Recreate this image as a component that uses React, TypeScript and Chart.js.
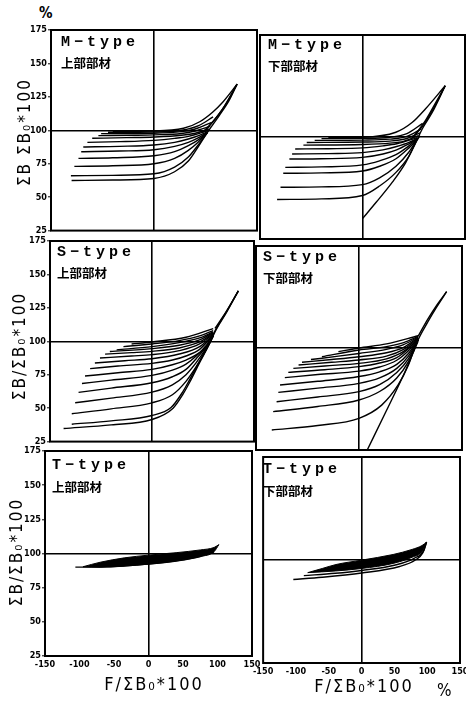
import React, { useEffect, useRef } from 'react';
import { Chart, registerables } from 'chart.js';

Chart.register(...registerables);

type Pt = [number, number];

const xTickValues = [-150, -100, -50, 0, 50, 100, 150];
const yTickValues = [25, 50, 75, 100, 125, 150, 175];

// ---- M-type 上部部材 ----
const mUpperCurves: Pt[][] = [
  [[-120, 62.5], [-60, 62.8], [0, 64], [30, 69], [50, 77], [66, 89], [78.6, 99], [95, 111], [109, 122], [121, 134.5]],
  [[-121, 66], [-60, 66.3], [0, 67.5], [30, 72.5], [50, 80], [65, 89.5], [78, 98.5]],
  [[-116, 73], [-60, 73.5], [0, 75], [30, 79], [50, 85], [65, 91.5], [78, 98.5]],
  [[-110, 79], [-60, 79.5], [0, 81], [30, 84], [50, 88.5], [65, 93], [78, 98.5]],
  [[-106, 84], [-50, 84.5], [0, 85.5], [30, 88], [50, 91], [65, 94.5], [78, 98.5]],
  [[-103, 87.5], [-50, 88], [0, 89], [30, 91], [50, 93.5], [65, 96], [78, 99]],
  [[-97, 91], [-50, 91.5], [0, 92.5], [30, 94], [50, 95.5], [65, 97.5], [80, 100]],
  [[-90, 94], [-40, 94.5], [0, 95], [40, 96.3], [60, 97.8], [80, 101]],
  [[-81, 96], [-30, 96.3], [0, 96.6], [40, 97.6], [60, 99.5], [82, 103]],
  [[-77, 97.5], [0, 97.8], [40, 99], [60, 101], [84, 106]],
  [[-67, 98.5], [0, 98.7], [40, 100], [65, 103.5], [86, 110]],
  [[-60, 99.3], [0, 99.5], [43, 101.5], [66.6, 106.4], [85.7, 113.7], [100, 121], [121, 134.5]],
];
const mUpperEnvelope: Pt[][] = [
  [[70, 98], [85, 106], [100, 116], [121, 134.5]],
  [[75, 100], [90, 109], [104, 119], [121, 134.5]],
];

// ---- M-type 下部部材 ----
const mLowerCurves: Pt[][] = [
  [[-125, 54], [-60, 54.5], [0, 57], [25, 64], [49, 74], [68, 86], [78, 96], [87.4, 105.9], [102, 118], [121, 137.7]],
  [[-120, 63], [-60, 63.3], [0, 65], [25, 70], [49, 78.5], [68, 89], [79, 97.5]],
  [[-116, 73.3], [-60, 73.6], [0, 75], [25, 78.5], [49, 84], [68, 92], [79, 97.5]],
  [[-113, 77.7], [-60, 78], [0, 79.5], [25, 82.5], [49, 87], [68, 93.5], [79, 98]],
  [[-107, 83.8], [-60, 84], [0, 85], [30, 87.5], [50, 90.5], [68, 95], [80, 98.5]],
  [[-103, 87.5], [-50, 87.8], [0, 88.5], [30, 90.5], [50, 93], [68, 96], [80, 99]],
  [[-98.5, 91.2], [-50, 91.4], [0, 92], [30, 93.5], [50, 95], [80, 99.5]],
  [[-86.5, 94], [0, 94.5], [40, 95.5], [60, 96.8], [82, 101]],
  [[-81.6, 96], [0, 96.3], [40, 97], [62, 98.5], [84, 103]],
  [[-70, 97.5], [0, 97.7], [40, 98.4], [65, 100.5], [86, 106]],
  [[-60, 98.8], [0, 99], [40, 99.8], [65, 102.5], [88, 110]],
  [[-50, 99.5], [0, 99.8], [48.8, 103.5], [73, 110.8], [92, 120.6], [121, 137.7]],
  [[0, 40], [20, 52], [44, 67], [63, 81], [78, 96], [84, 101]],
];
const mLowerEnvelope: Pt[][] = [
  [[72, 99], [88, 108], [104, 121], [121, 137.7]],
  [[76, 101], [92, 112], [108, 126], [121, 137.7]],
];

// ---- S-type 上部部材 ----
const sUpperCurves: Pt[][] = [
  [[-130, 34.8], [-60, 37.5], [0, 41.5], [31, 50], [45, 60], [55, 69], [70, 84], [85, 98.5], [92.6, 107], [110, 122], [127, 137.7]],
  [[-118, 38], [-60, 40.5], [0, 44.5], [28, 50.5], [45, 62], [55, 71], [70, 85], [85, 99]],
  [[-118, 45.8], [-60, 49.5], [0, 54], [30, 60], [50, 70], [65, 81], [80, 94], [90, 104]],
  [[-113, 54], [-60, 57.5], [0, 62], [30, 67.5], [50, 75], [65, 84], [80, 95], [90, 104]],
  [[-108, 61.8], [-60, 65], [0, 69], [30, 73.5], [50, 79], [65, 87], [80, 96], [90, 104]],
  [[-103, 68.4], [-60, 71], [0, 74.5], [30, 78.5], [50, 83], [65, 89], [80, 97], [90, 104]],
  [[-98.5, 74], [-50, 76.5], [0, 79], [30, 82.5], [50, 86], [70, 91.5], [85, 99], [90, 104]],
  [[-91, 79.6], [-50, 81.5], [0, 83.5], [30, 86], [50, 89], [70, 94], [90, 104.5]],
  [[-84, 83.8], [-40, 85.5], [0, 87], [40, 90.5], [70, 96], [90, 105]],
  [[-76.5, 87.5], [-30, 89], [0, 90], [40, 93], [70, 98], [90, 105.5]],
  [[-69, 90.4], [-30, 91.5], [0, 92.5], [40, 95], [70, 99.5], [90, 106]],
  [[-62, 92.4], [0, 94.5], [40, 97], [70, 101], [90, 106.5]],
  [[-52, 93.6], [0, 96], [40, 99], [70, 102.5], [90, 107]],
  [[-42, 96], [0, 98], [40, 100.5], [70, 104], [90, 108]],
  [[-30, 98], [0, 99.5], [50, 103], [90, 109.5]],
];
const sUpperEnvelope: Pt[][] = [
  [[88, 103], [95, 110], [110, 122.5], [127, 137.7]],
  [[92.6, 109.6], [110, 123], [127, 137.7]],
];

// ---- S-type 下部部材 ----
const sLowerCurves: Pt[][] = [
  [[-127, 39.7], [-60, 43], [0, 48.3], [33, 58], [57, 72.8], [72, 87.5], [79, 97.3], [86, 106]],
  [[-125, 53.2], [-60, 57], [0, 61.8], [30, 68], [55, 78], [72, 90], [86, 106]],
  [[-120, 60.5], [-60, 64], [0, 67.9], [30, 73], [55, 82], [72, 92], [86, 106]],
  [[-117.5, 67.4], [-60, 70.5], [0, 74], [30, 78], [55, 85], [72, 94], [86, 106]],
  [[-115, 72.8], [-60, 75.5], [0, 79], [30, 82.5], [55, 88], [72, 96], [86, 106]],
  [[-108, 78.2], [-60, 80.5], [0, 83], [30, 86], [55, 91], [72, 98], [86, 106]],
  [[-103, 82.1], [-50, 84], [0, 86.3], [30, 89], [55, 93], [72, 99.5], [86, 106.5]],
  [[-95.6, 85], [-50, 86.8], [0, 88.7], [40, 92], [65, 97.5], [86, 106.5]],
  [[-88, 87.5], [-40, 89.5], [0, 91.2], [40, 94], [65, 99], [86, 107]],
  [[-83, 89.5], [-40, 91.5], [0, 93.6], [40, 96.5], [65, 100.5], [86, 107.5]],
  [[-70, 91.5], [-30, 94], [0, 96], [40, 99], [65, 102.5], [86, 108]],
  [[-54, 93.6], [0, 98.5], [40, 101], [65, 104], [86, 108.5]],
  [[-30, 97.3], [0, 100], [40, 103], [86, 109]],
  [[12, 25], [40, 54], [67, 82.6], [86, 105]],
];
const sLowerEnvelope: Pt[][] = [
  [[79, 97], [86, 106], [100, 119], [113, 130], [127.6, 141.4]],
  [[86, 108.5], [100, 121], [114, 132], [127.6, 141.4]],
];

// ---- T-type 上部部材 ----
const tUpperBand: Pt[][] = [
  [[-95, 90.3], [-70, 93.6], [-35, 96.8], [0, 98.8], [40, 100.6], [75, 102.6], [95, 104.4], [102, 106.5]],
  [[-95, 90.3], [-70, 90], [-35, 90.8], [0, 92.2], [40, 94.5], [75, 97.8], [95, 101.3], [102, 106.5]],
];
const tUpperCurves: Pt[][] = [
  [[-106, 90], [-80, 90], [-60, 90.2], [-35, 90.9], [0, 92.2], [40, 94.5], [75, 97.8], [95, 101.3]],
];

// ---- T-type 下部部材 ----
const tLowerBand: Pt[][] = [
  [[-82, 90.8], [-60, 93.8], [-39, 96.7], [0, 99.9], [48, 104], [77, 107.7], [92, 110.5], [99, 113]],
  [[-82, 90.8], [-40, 92], [0, 93.8], [48, 97.5], [77, 102], [92, 106], [99, 113]],
];
const tLowerCurves: Pt[][] = [
  [[-104, 85.8], [-60, 87.4], [0, 90.5], [58, 95.3], [82, 100], [93, 105], [99, 113]],
  [[-88, 88.6], [-40, 90.3], [0, 92.4], [50, 96.2], [80, 101.2], [95, 107], [99, 113]],
];

type Box = { left: number; top: number; w: number; h: number };

const tickFont = { family: "'DejaVu Sans Condensed', 'DejaVu Sans', sans-serif", size: 9, weight: 'bold' as const };

function toXY(pts: Pt[]) {
  return pts.map(([x, y]) => ({ x, y }));
}

function Panel(props: {
  box: Box;
  curves: Pt[][];
  extra?: Pt[][];
  band?: Pt[][];
  showY: boolean;
  showX: boolean;
}) {
  const { box, curves, extra, band, showY, showX } = props;
  const L = showY ? 40 : 3;
  const R = showX ? 12 : 3;
  const T = showY ? 8 : 3;
  const B = showX ? 18 : 3;
  const ref = useRef<HTMLCanvasElement>(null);

  useEffect(() => {
    if (!ref.current) return;
    const datasets: any[] = [];
    const lineBase = {
      borderColor: '#000',
      pointRadius: 0,
      cubicInterpolationMode: 'monotone',
      fill: false,
    };
    if (band) {
      datasets.push({ ...lineBase, data: toXY(band[0]), borderWidth: 1, fill: '+1', backgroundColor: '#000' });
      datasets.push({ ...lineBase, data: toXY(band[1]), borderWidth: 1 });
    }
    curves.forEach((c) => datasets.push({ ...lineBase, data: toXY(c), borderWidth: 1.4 }));
    (extra || []).forEach((c) => datasets.push({ ...lineBase, data: toXY(c), borderWidth: 1.4 }));

    const chart = new Chart(ref.current, {
      type: 'line',
      data: { datasets },
      options: {
        animation: false,
        responsive: false,
        events: [],
        layout: { padding: { left: 0, top: T, right: R, bottom: 0 } },
        plugins: { legend: { display: false }, tooltip: { enabled: false } },
        scales: {
          x: {
            type: 'linear',
            min: -150,
            max: 150,
            afterBuildTicks: (s: any) => {
              s.ticks = xTickValues.map((v) => ({ value: v }));
            },
            afterFit: (s: any) => {
              s.height = B;
            },
            ticks: { display: showX, font: tickFont, color: '#000', padding: 3, maxRotation: 0, autoSkip: false },
            grid: {
              color: (c: any) => (c.tick && c.tick.value === 0 ? '#000' : 'rgba(0,0,0,0)'),
              lineWidth: 1.6,
              drawTicks: false,
            },
            border: { display: false },
          },
          y: {
            type: 'linear',
            min: 25,
            max: 175,
            afterBuildTicks: (s: any) => {
              s.ticks = yTickValues.map((v) => ({ value: v }));
            },
            afterFit: (s: any) => {
              s.width = L;
            },
            ticks: { display: showY, font: tickFont, color: '#000', padding: 1, autoSkip: false },
            grid: {
              color: (c: any) => (c.tick && c.tick.value === 100 ? '#000' : 'rgba(0,0,0,0)'),
              lineWidth: 1.6,
              drawTicks: showY,
              tickLength: 3,
              tickColor: '#000',
              tickWidth: 1,
            },
            border: { display: false },
          },
        },
      } as any,
      plugins: [
        {
          id: 'frame',
          afterDraw(ch: any) {
            const { left, top, right, bottom } = ch.chartArea;
            const ctx = ch.ctx;
            ctx.save();
            ctx.strokeStyle = '#000';
            ctx.lineWidth = 2;
            ctx.strokeRect(left, top, right - left, bottom - top);
            ctx.restore();
          },
        },
      ],
    });
    return () => chart.destroy();
  }, []);

  return (
    <canvas
      ref={ref}
      width={box.w + L + R}
      height={box.h + T + B}
      style={{ position: 'absolute', left: box.left - L, top: box.top - T, width: box.w + L + R, height: box.h + T + B }}
    />
  );
}

const titleStyle: React.CSSProperties = {
  position: 'absolute',
  fontFamily: "'Liberation Mono', 'DejaVu Sans Mono', monospace",
  fontWeight: 'bold',
  fontSize: 15,
  letterSpacing: 4,
  lineHeight: '15px',
  whiteSpace: 'nowrap',
  color: '#000',
};
const subStyle: React.CSSProperties = {
  position: 'absolute',
  fontFamily: "'Noto Sans CJK JP', sans-serif",
  fontWeight: 'bold',
  fontSize: 12.5,
  lineHeight: '13px',
  whiteSpace: 'nowrap',
  color: '#000',
};
const axisTitleFont = "'DejaVu Sans Condensed', 'DejaVu Sans', sans-serif";

function YTitle({ cx, cy, text }: { cx: number; cy: number; text: string }) {
  return (
    <div
      style={{
        position: 'absolute',
        left: cx,
        top: cy,
        transform: 'translate(-50%, -50%) rotate(-90deg)',
        fontFamily: axisTitleFont,
        fontSize: 17,
        letterSpacing: 2,
        whiteSpace: 'nowrap',
        lineHeight: '18px',
        color: '#000',
      }}
    >
      {text}
    </div>
  );
}

function XTitle({ cx, cy, text }: { cx: number; cy: number; text: string }) {
  return (
    <div
      style={{
        position: 'absolute',
        left: cx,
        top: cy,
        transform: 'translate(-50%, -50%)',
        fontFamily: axisTitleFont,
        fontSize: 18,
        letterSpacing: 2,
        whiteSpace: 'nowrap',
        lineHeight: '20px',
        color: '#000',
      }}
    >
      {text}
    </div>
  );
}

export default function App() {
  return (
    <div style={{ position: 'absolute', left: 0, top: 0, width: 466, height: 701, overflow: 'hidden', background: '#fff' }}>
      <Panel box={{ left: 51, top: 30, w: 206, h: 204 }} curves={mUpperCurves} extra={mUpperEnvelope} showY={true} showX={false} />
      <Panel box={{ left: 260, top: 35, w: 205, h: 204 }} curves={mLowerCurves} extra={mLowerEnvelope} showY={false} showX={false} />
      <Panel box={{ left: 50, top: 241, w: 204, h: 204 }} curves={sUpperCurves} extra={sUpperEnvelope} showY={true} showX={false} />
      <Panel box={{ left: 256, top: 246, w: 206, h: 204 }} curves={sLowerCurves} extra={sLowerEnvelope} showY={false} showX={false} />
      <Panel box={{ left: 45, top: 451, w: 207, h: 205 }} curves={tUpperCurves} band={tUpperBand} showY={true} showX={true} />
      <Panel box={{ left: 253, top: 457, w: 207, h: 206 }} curves={tLowerCurves} band={tLowerBand} showY={false} showX={true} />

      <div style={{ position: 'absolute', left: 39, top: 4, fontFamily: axisTitleFont, fontSize: 15, fontWeight: 'bold', color: '#000' }}>%</div>

      <div style={{ ...titleStyle, left: 61, top: 35 }}>M−type</div>
      <div style={{ ...subStyle, left: 61, top: 56 }}>上部部材</div>
      <div style={{ ...titleStyle, left: 268, top: 38 }}>M−type</div>
      <div style={{ ...subStyle, left: 268, top: 59 }}>下部部材</div>
      <div style={{ ...titleStyle, left: 57, top: 245 }}>S−type</div>
      <div style={{ ...subStyle, left: 57, top: 266 }}>上部部材</div>
      <div style={{ ...titleStyle, left: 263, top: 250 }}>S−type</div>
      <div style={{ ...subStyle, left: 263, top: 271 }}>下部部材</div>
      <div style={{ ...titleStyle, left: 52, top: 458 }}>T−type</div>
      <div style={{ ...subStyle, left: 52, top: 480 }}>上部部材</div>
      <div style={{ ...titleStyle, left: 263, top: 462 }}>T−type</div>
      <div style={{ ...subStyle, left: 263, top: 484 }}>下部部材</div>

      <YTitle cx={24} cy={132} text="ΣB ΣB₀*100" />
      <YTitle cx={19} cy={346} text="ΣB/ΣB₀*100" />
      <YTitle cx={16} cy={552} text="ΣB/ΣB₀*100" />

      <XTitle cx={154} cy={684} text="F/ΣB₀*100" />
      <XTitle cx={364} cy={686} text="F/ΣB₀*100" />
      <div style={{ position: 'absolute', left: 437, top: 680, fontFamily: axisTitleFont, fontSize: 17, color: '#000' }}>%</div>
    </div>
  );
}
